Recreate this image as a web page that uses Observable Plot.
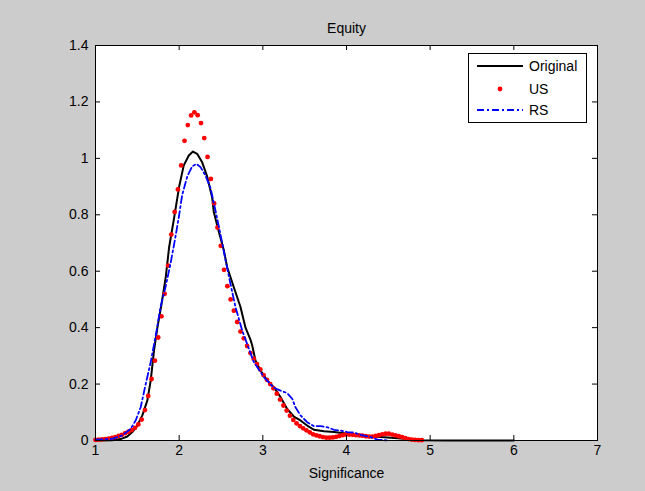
<!DOCTYPE html>
<html><head><meta charset="utf-8">
<script src="https://cdn.jsdelivr.net/npm/d3@7"></script>
<script src="https://cdn.jsdelivr.net/npm/@observablehq/plot@0.6"></script>
<style>
html,body{margin:0;padding:0;background:#cccccc;}
#chart{width:645px;height:491px;}
</style></head><body><div id="chart"></div>
<script>
const title = "Equity";
const xLabel = "Significance";
const xTicks = [1, 2, 3, 4, 5, 6, 7];
const yTicks = [0, 0.2, 0.4, 0.6, 0.8, 1, 1.2, 1.4];
const seriesNames = ["Original", "US", "RS"];

const originalX = [1.0, 1.2, 1.3, 1.38, 1.44, 1.5, 1.56, 1.62, 1.66, 1.7, 1.74, 1.79, 1.84, 1.88, 1.94, 2.0, 2.055, 2.115, 2.165, 2.215, 2.275, 2.335, 2.395, 2.414, 2.474, 2.534, 2.574, 2.653, 2.733, 2.793, 2.853, 2.873, 2.912, 2.972, 3.052, 3.131, 3.211, 3.291, 3.37, 3.45, 3.53, 3.61, 3.73, 3.85, 3.97, 4.13, 4.33, 4.53, 4.73, 4.9, 5.2, 6.0];
const originalY = [0, 0.001, 0.005, 0.014, 0.03, 0.053, 0.089, 0.142, 0.213, 0.32, 0.4, 0.485, 0.58, 0.685, 0.79, 0.9, 0.975, 1.01, 1.024, 1.016, 0.986, 0.935, 0.86, 0.81, 0.74, 0.674, 0.614, 0.543, 0.473, 0.4, 0.357, 0.337, 0.284, 0.248, 0.213, 0.189, 0.154, 0.112, 0.085, 0.071, 0.053, 0.038, 0.033, 0.03, 0.026, 0.018, 0.014, 0.01, 0.005, 0.001, 0, 0];

const usX = [1.000, 1.039, 1.079, 1.118, 1.158, 1.197, 1.236, 1.276, 1.315, 1.355, 1.394, 1.433, 1.473, 1.512, 1.552, 1.591, 1.630, 1.670, 1.709, 1.749, 1.788, 1.827, 1.867, 1.906, 1.946, 1.985, 2.024, 2.064, 2.103, 2.143, 2.182, 2.221, 2.261, 2.300, 2.339, 2.379, 2.418, 2.458, 2.497, 2.536, 2.576, 2.615, 2.654, 2.694, 2.733, 2.773, 2.812, 2.852, 2.891, 2.930, 2.970, 3.009, 3.049, 3.088, 3.127, 3.167, 3.206, 3.246, 3.285, 3.324, 3.364, 3.403, 3.443, 3.482, 3.521, 3.561, 3.600, 3.640, 3.679, 3.718, 3.758, 3.797, 3.837, 3.876, 3.915, 3.955, 3.994, 4.034, 4.073, 4.112, 4.152, 4.191, 4.231, 4.270, 4.309, 4.349, 4.388, 4.428, 4.467, 4.506, 4.546, 4.585, 4.625, 4.664, 4.703, 4.743, 4.782, 4.821, 4.861, 4.900];
const usY = [0.002, 0.003, 0.004, 0.005, 0.007, 0.009, 0.012, 0.016, 0.020, 0.026, 0.031, 0.037, 0.045, 0.057, 0.074, 0.108, 0.158, 0.218, 0.283, 0.365, 0.44, 0.52, 0.62, 0.73, 0.81, 0.89, 0.975, 1.062, 1.118, 1.152, 1.163, 1.153, 1.125, 1.072, 1.005, 0.927, 0.84, 0.755, 0.69, 0.605, 0.547, 0.50, 0.46, 0.42, 0.386, 0.362, 0.335, 0.31, 0.29, 0.271, 0.252, 0.232, 0.215, 0.2, 0.185, 0.166, 0.145, 0.124, 0.106, 0.088, 0.073, 0.061, 0.051, 0.043, 0.036, 0.029, 0.022, 0.018, 0.015, 0.012, 0.010, 0.010, 0.011, 0.013, 0.016, 0.019, 0.021, 0.021, 0.02, 0.019, 0.018, 0.017, 0.015, 0.014, 0.014, 0.016, 0.019, 0.022, 0.024, 0.024, 0.021, 0.018, 0.015, 0.012, 0.008, 0.005, 0.003, 0.002, 0.001, 0.001];

const rsX = [1.0, 1.2, 1.32, 1.42, 1.48, 1.54, 1.6, 1.66, 1.725, 1.777, 1.836, 1.896, 1.948, 1.996, 2.036, 2.096, 2.156, 2.207, 2.255, 2.315, 2.374, 2.434, 2.494, 2.554, 2.613, 2.673, 2.753, 2.892, 3.012, 3.131, 3.211, 3.291, 3.351, 3.39, 3.45, 3.53, 3.61, 3.69, 3.77, 3.85, 3.93, 4.01, 4.09, 4.17, 4.29, 4.37, 4.49];
const rsY = [0.003, 0.006, 0.018, 0.041, 0.071, 0.118, 0.2, 0.278, 0.38, 0.473, 0.543, 0.626, 0.709, 0.792, 0.87, 0.935, 0.972, 0.98, 0.969, 0.939, 0.895, 0.815, 0.73, 0.64, 0.555, 0.473, 0.39, 0.278, 0.225, 0.187, 0.177, 0.168, 0.148, 0.118, 0.089, 0.065, 0.051, 0.051, 0.047, 0.038, 0.035, 0.03, 0.028, 0.02, 0.012, 0.003, 0];

const colors = {Original: "#000000", US: "#ff0000", RS: "#0000ff"};

const orig = originalX.map((x, i) => ({x, y: originalY[i]}));
const us = usX.map((x, i) => ({x, y: usY[i]}));
const rs = rsX.map((x, i) => ({x, y: rsY[i]}));

const W = 645, H = 491, mL = 95, mR = 48, mT = 45, mB = 51;
const fw = W - mL - mR, fh = H - mT - mB, tl = 5;
const font = "'Liberation Sans', Arial, Helvetica, sans-serif";
const fs = 14;

const plot = Plot.plot({
  width: W, height: H,
  marginLeft: mL, marginRight: mR, marginTop: mT, marginBottom: mB,
  style: {background: "#cccccc", fontFamily: font, fontSize: fs + "px", color: "#000", overflow: "visible"},
  x: {domain: [1, 7], ticks: xTicks, tickFormat: d => String(d)},
  y: {domain: [0, 1.4], ticks: yTicks, tickFormat: d => String(d)},
  marks: [
    Plot.frame({fill: "white", stroke: "none"}),
    Plot.line(orig, {x: "x", y: "y", stroke: colors.Original, strokeWidth: 2}),
    Plot.dot(us, {x: "x", y: "y", r: 2.4, fill: colors.US, stroke: "none"}),
    Plot.line(rs, {x: "x", y: "y", stroke: colors.RS, strokeWidth: 1.8, strokeDasharray: "7,3,2,3"}),
    Plot.ruleX(xTicks, {x: d => d, insetTop: fh - tl, stroke: "#000"}),
    Plot.ruleX(xTicks, {x: d => d, insetBottom: fh - tl, stroke: "#000"}),
    Plot.ruleY(yTicks, {y: d => d, insetRight: fw - tl, stroke: "#000"}),
    Plot.ruleY(yTicks, {y: d => d, insetLeft: fw - tl, stroke: "#000"}),
    Plot.frame({stroke: "#000", fill: "none"}),
    Plot.axisX({ticks: xTicks, tickFormat: d => String(d), tickSize: 0, tickPadding: 5, label: null, fill: "#000", fontSize: fs}),
    Plot.axisY({ticks: yTicks, tickFormat: d => String(d), tickSize: 0, tickPadding: 7, label: null, fill: "#000", fontSize: fs}),
    Plot.text([xLabel], {text: d => d, frameAnchor: "bottom", dy: 33, lineAnchor: "middle", fill: "#000", fontSize: fs}),
    Plot.text([title], {text: d => d, frameAnchor: "top", dy: -17, lineAnchor: "middle", fill: "#000", fontSize: fs})
  ]
});

// legend (MATLAB style box in the upper right)
const svg = d3.select(plot);
const lg = svg.append("g").attr("font-family", font).attr("font-size", fs).attr("text-anchor", "start");
const bx = 468.5, by = 53.5, bw = 118, bh = 69;
lg.append("rect").attr("x", bx).attr("y", by).attr("width", bw).attr("height", bh)
  .attr("fill", "white").attr("stroke", "#000");
const rowsY = [66, 89, 110];
seriesNames.forEach((name, i) => {
  const yy = rowsY[i];
  if (name === "US") {
    lg.append("circle").attr("cx", 500).attr("cy", yy).attr("r", 2.4).attr("fill", colors.US);
  } else {
    lg.append("line").attr("x1", 477).attr("x2", 523).attr("y1", yy).attr("y2", yy)
      .attr("stroke", colors[name]).attr("stroke-width", name === "RS" ? 1.8 : 2)
      .attr("stroke-dasharray", name === "RS" ? "7,3,2,3" : null);
  }
  lg.append("text").attr("x", 529).attr("y", yy).attr("dy", "0.35em")
    .attr("text-anchor", "start").attr("fill", "#000").text(name);
});

document.getElementById("chart").appendChild(plot);
</script>
</body></html>
